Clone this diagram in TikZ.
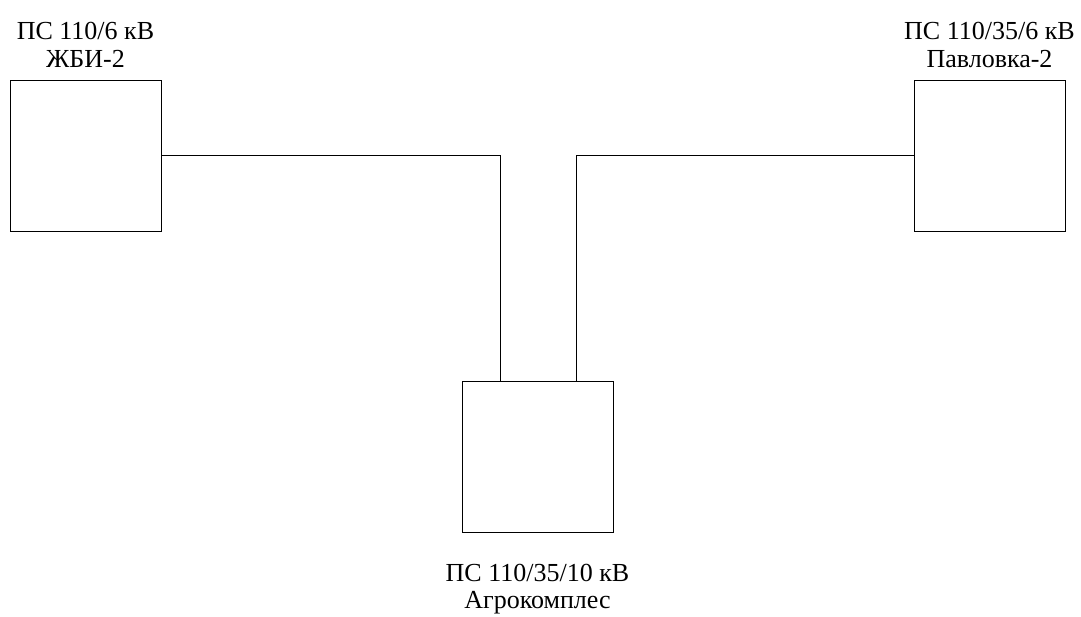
\documentclass[tikz,border=0pt]{standalone}
\usepackage{fontspec}
\setmainfont{Liberation Serif}
\begin{document}
\begin{tikzpicture}[x=1pt,y=-1pt,
  box/.style={draw, line width=0.9pt, minimum width=151pt, minimum height=151pt, inner sep=0pt},
  lbl/.style={font=\fontsize{26}{29}\selectfont, anchor=base, inner sep=0pt},
  conn/.style={line width=0.9pt}]
\useasboundingbox (0,0) rectangle (1081,616);
\node[box] (L) at (85.5,155.5) {};
\node[box] (R) at (989.5,155.5) {};
\node[box] (B) at (537.5,456.5) {};
\node[lbl] (L1) at (85.5,39.5) {ПС 110/6 кВ};
\node[lbl] (L2) at (85.5,67) {ЖБИ-2};
\node[lbl] (R1) at (989.5,39.5) {ПС 110/35/6 кВ};
\node[lbl] (R2) at (989.5,67) {Павловка-2};
\node[lbl] (B1) at (537.5,581) {ПС 110/35/10 кВ};
\node[lbl] (B2) at (537.5,608) {Агрокомплес};
\draw[conn] (L.east) -| ([xshift=-37.5pt]B.north);
\draw[conn] (R.west) -| ([xshift=38.5pt]B.north);
\end{tikzpicture}
\end{document}
